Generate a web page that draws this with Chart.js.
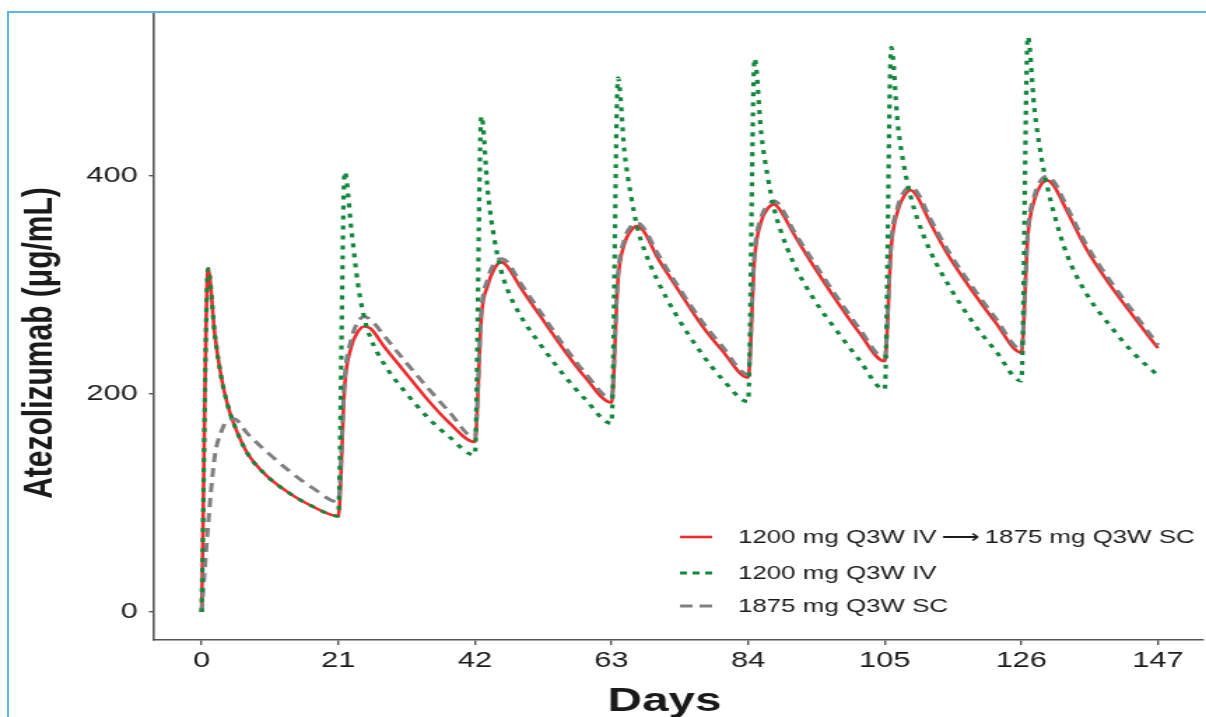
<!DOCTYPE html>
<html>
<head>
<meta charset="utf-8">
<title>Atezolizumab concentration – IV vs SC</title>
<script src="https://cdn.jsdelivr.net/npm/chart.js@4.4.1/dist/chart.umd.min.js"></script>
<style>
  html, body { margin: 0; padding: 0; background: #fff; overflow: hidden; }
  #wrap { position: relative; width: 1206px; height: 717px; overflow: hidden; }
  /* the source figure is stretched sideways, so the canvas is too */
  #stage { position: absolute; left: 0; top: 0; width: 862px; height: 717px; transform: scaleX(1.3991); transform-origin: 0 0; }
  #frame { position: absolute; left: 7px; top: 11px; width: 1210px; height: 730px;
           border-left: 2px solid #5db7e8; border-top: 2px solid #5db7e8; box-sizing: border-box; }
</style>
</head>
<body>
<div id="wrap">
  <div id="stage"><canvas id="pkChart" width="862" height="717"></canvas></div>
  <div id="frame"></div>
</div>

<script>
// ── Data ────────────────────────────────────────────────────
const days = [
  0, 1, 2, 3, 4, 5, 7, 10, 14, 17,
  21, 22, 23, 24, 25, 26, 28, 31, 35, 38,
  42, 43, 44, 45, 46, 47, 49, 52, 56, 59,
  63, 64, 65, 66, 67, 68, 70, 73, 77, 80,
  84, 85, 86, 87, 88, 89, 91, 94, 98, 101,
  105, 106, 107, 108, 109, 110, 112, 115, 119, 122,
  126, 127, 128, 129, 130, 131, 133, 136, 140, 143,
  147
];

// 1200 mg Q3W IV -> 1875 mg Q3W SC
const ivToSc = [
  0, 315, 256, 216, 190, 172, 146, 125, 107, 97,
  88, 208, 243, 257, 262, 260, 244, 222, 193, 174,
  156, 271, 300, 315, 321, 317, 298, 272, 238, 215,
  192, 305, 338, 350, 354, 349, 326, 298, 262, 240,
  215, 325, 358, 370, 374, 368, 347, 318, 282, 257,
  230, 335, 368, 382, 387, 381, 357, 325, 290, 266,
  238, 345, 378, 392, 396, 391, 368, 333, 297, 273,
  242
];

// 1200 mg Q3W IV
const ivOnly = [
  0, 315, 256, 216, 190, 172, 146, 125, 107, 97,
  88, 404, 352, 302, 270, 251, 228, 204, 177, 161,
  144, 455, 385, 342, 314, 296, 272, 246, 215, 195,
  173, 490, 422, 382, 352, 333, 305, 272, 236, 214,
  193, 508, 440, 400, 370, 350, 320, 288, 255, 232,
  204, 518, 448, 408, 381, 361, 331, 298, 262, 240,
  212, 528, 462, 420, 390, 366, 328, 292, 260, 239,
  217
];

// 1875 mg Q3W SC
const scOnly = [
  0, 80, 142, 165, 176, 177, 164, 147, 127, 114,
  101, 215, 250, 266, 271, 268, 254, 232, 204, 184,
  160, 276, 306, 320, 324, 321, 302, 276, 242, 219,
  196, 310, 342, 354, 357, 352, 330, 301, 266, 244,
  218, 330, 362, 373, 377, 372, 350, 322, 286, 261,
  233, 340, 372, 386, 390, 385, 361, 329, 294, 270,
  241, 350, 382, 396, 400, 395, 372, 337, 301, 277,
  245
];

const seriesLabels = [
  '1200 mg Q3W IV\u2009\u27f6\u20091875 mg Q3W SC',
  '1200 mg Q3W IV',
  '1875 mg Q3W SC'
];
const xTicks = [0, 21, 42, 63, 84, 105, 126, 147];
const yTicks = [0, 200, 400];
const xTitle = 'Days';
const yTitle = 'Atezolizumab (\u03bcg/mL)';

// ── Styling ─────────────────────────────────────────────────
const FONT = '"Liberation Sans", Arial, Helvetica, sans-serif';
const TEXT = '#1a1a1a';
const AXIS = '#555555';
const RED = '#ee2c2c';
const GREEN = '#12883c';
const GREY = '#808080';

function pts(values) {
  return values.map((v, i) => ({ x: days[i], y: v }));
}

// no extra label padding: the panel has to start right under the frame
function noPad(s) {
  s.paddingTop = 0;
  s.paddingBottom = 0;
  s.paddingLeft = 0;
  s.paddingRight = 0;
}

// titles + legend sit inside the panel like the ggplot original
const overlayPlugin = {
  id: 'overlay',
  afterDraw(chart) {
    const ctx = chart.ctx;

    ctx.save();
    ctx.fillStyle = TEXT;
    ctx.textAlign = 'center';
    ctx.textBaseline = 'middle';
    ctx.font = `bold 34px ${FONT}`;
    ctx.fillText(xTitle, 475, 702);
    ctx.translate(29, 343);
    ctx.rotate(-Math.PI / 2);
    ctx.font = `bold 30px ${FONT}`;
    ctx.fillText(yTitle, 0, 0);
    ctx.restore();

    const rows = [537, 573, 606];
    chart.data.datasets.forEach((ds, i) => {
      const y = rows[i];
      ctx.save();
      ctx.strokeStyle = ds.borderColor;
      ctx.lineWidth = ds.borderWidth;
      ctx.setLineDash(ds.keyDash || []);
      ctx.beginPath();
      ctx.moveTo(486, y);
      ctx.lineTo(509, y);
      ctx.stroke();
      ctx.setLineDash([]);
      ctx.fillStyle = TEXT;
      ctx.font = `18.5px ${FONT}`;
      ctx.textAlign = 'left';
      ctx.textBaseline = 'middle';
      ctx.fillText(ds.label, 527.5, y + 1);
      ctx.restore();
    });
  }
};

new Chart(document.getElementById('pkChart'), {
  type: 'line',
  data: {
    datasets: [
      {
        label: seriesLabels[0], data: pts(ivToSc),
        borderColor: RED, borderWidth: 2.6, order: 3, keyDash: []
      },
      {
        label: seriesLabels[1], data: pts(ivOnly),
        borderColor: GREEN, borderWidth: 3.2, borderDash: [4, 6], order: 1, keyDash: [5, 4]
      },
      {
        label: seriesLabels[2], data: pts(scOnly),
        borderColor: GREY, borderWidth: 3, borderDash: [9, 6], order: 2, keyDash: [9, 5]
      }
    ]
  },
  options: {
    responsive: false,
    animation: false,
    devicePixelRatio: 1,
    cubicInterpolationMode: 'monotone',
    elements: { point: { radius: 0 }, line: { fill: false, borderCapStyle: 'butt' } },
    layout: { padding: { top: 12, right: 2, left: 0, bottom: 0 } },
    plugins: { legend: { display: false }, tooltip: { enabled: false } },
    scales: {
      x: {
        type: 'linear', min: -7.46, max: 153.96,
        afterBuildTicks: s => { s.ticks = xTicks.map(v => ({ value: v })); },
        afterFit: s => { s.height = 77; noPad(s); },
        grid: { drawOnChartArea: false, tickLength: 5, color: AXIS, lineWidth: 1.4 },
        border: { display: true, color: AXIS, width: 1.6 },
        ticks: { font: { family: FONT, size: 22 }, color: TEXT, padding: 3, maxRotation: 0, autoSkip: false }
      },
      y: {
        type: 'linear', min: -25.7, max: 550.5,
        afterBuildTicks: s => { s.ticks = yTicks.map(v => ({ value: v })); },
        afterFit: s => { s.width = 109.4; noPad(s); },
        grid: { drawOnChartArea: false, tickLength: 3, color: AXIS, lineWidth: 1.4 },
        border: { display: true, color: AXIS, width: 1.6 },
        ticks: { font: { family: FONT, size: 22 }, color: TEXT, padding: 8 }
      }
    }
  },
  plugins: [overlayPlugin]
});
</script>
</body>
</html>
